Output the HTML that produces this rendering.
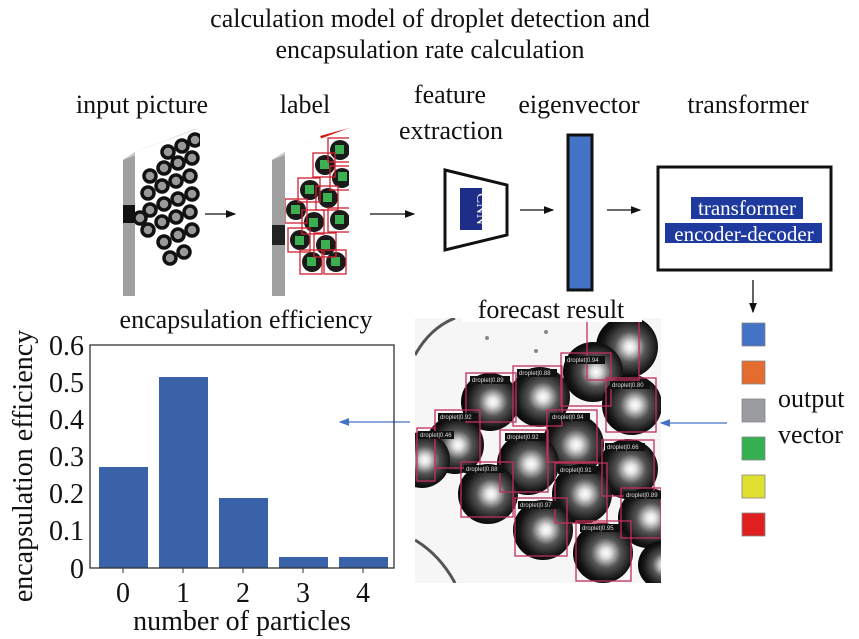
<!DOCTYPE html>
<html><head><meta charset="utf-8"><style>
body{margin:0;background:#fff;}
svg{display:block;font-family:"Liberation Serif","DejaVu Serif Condensed","DejaVu Serif",serif;}
</style></head><body>
<svg width="859" height="639" viewBox="0 0 859 639" xmlns="http://www.w3.org/2000/svg" fill="#111">
<defs>
<radialGradient id="dg" cx="0.55" cy="0.5" r="0.55">
<stop offset="0" stop-color="#fff"/><stop offset="0.15" stop-color="#e0e0e0"/><stop offset="0.45" stop-color="#555"/><stop offset="0.8" stop-color="#151515"/><stop offset="1" stop-color="#050505"/>
</radialGradient>
<clipPath id="fc"><rect x="415" y="318" width="246" height="265"/></clipPath>
<clipPath id="ip"><polygon points="135,152 200,128 200,262 135,296"/></clipPath>
<clipPath id="lp"><polygon points="285,152 349,128 349,280 285,296"/></clipPath>
<marker id="ah" markerWidth="8" markerHeight="8" refX="7" refY="4" orient="auto"><path d="M0,1 L8,4 L0,7z" fill="#111"/></marker>
<marker id="bh" markerWidth="8" markerHeight="8" refX="7" refY="4" orient="auto"><path d="M0,1 L8,4 L0,7z" fill="#4472c4"/></marker>
</defs>

<g font-size="26">
<text x="430" y="27" text-anchor="middle">calculation model of droplet detection and</text>
<text x="430" y="58" text-anchor="middle">encapsulation rate calculation</text>
<text x="142" y="113" text-anchor="middle">input picture</text>
<text x="305" y="113" text-anchor="middle">label</text>
<text x="450" y="103" text-anchor="middle">feature</text>
<text x="451" y="139" text-anchor="middle">extraction</text>
<text x="579" y="113" text-anchor="middle">eigenvector</text>
<text x="748" y="113" text-anchor="middle">transformer</text>
</g>

<polygon points="123,160 135,152 135,296 123,296" fill="#a0a0a0"/>
<polygon points="123,160 135,152 198,128 186,136" fill="#c8c8c8"/>
<rect x="123" y="205" width="12" height="18" fill="#111"/>
<polygon points="135,152 200,128 200,262 135,296" fill="#fff"/>
<g clip-path="url(#ip)" fill="#999" stroke="#111" stroke-width="3.5">
<circle cx="195" cy="140" r="6"/><circle cx="182" cy="146" r="6"/><circle cx="168" cy="152" r="6"/><circle cx="192" cy="158" r="6"/>
<circle cx="178" cy="163" r="6"/><circle cx="164" cy="168" r="6"/><circle cx="150" cy="176" r="6"/><circle cx="190" cy="176" r="6"/>
<circle cx="176" cy="181" r="6"/><circle cx="162" cy="186" r="6"/><circle cx="148" cy="193" r="6"/><circle cx="192" cy="194" r="6"/>
<circle cx="178" cy="199" r="6"/><circle cx="164" cy="204" r="6"/><circle cx="150" cy="210" r="6"/><circle cx="140" cy="218" r="6"/>
<circle cx="190" cy="212" r="6"/><circle cx="176" cy="217" r="6"/><circle cx="162" cy="222" r="6"/><circle cx="148" cy="230" r="6"/>
<circle cx="192" cy="230" r="6"/><circle cx="178" cy="235" r="6"/><circle cx="164" cy="242" r="6"/><circle cx="184" cy="252" r="6"/><circle cx="170" cy="258" r="6"/>
</g>
<line x1="205" y1="214" x2="235" y2="214" stroke="#111" stroke-width="1.3" marker-end="url(#ah)"/>

<polygon points="272,160 285,152 285,296 272,296" fill="#a0a0a0"/>
<polygon points="272,160 285,152 349,128 336,136" fill="#c8c8c8"/>
<polygon points="320,136 349,128 349,140 325,146" fill="#d01818"/>
<rect x="272" y="225" width="18" height="20" fill="#222"/>
<polygon points="285,152 349,128 349,280 285,296" fill="#fff"/>
<g clip-path="url(#lp)">
<g fill="#1a1a1a"><circle cx="340" cy="150" r="10"/><circle cx="325" cy="165" r="10"/><circle cx="342" cy="178" r="10"/><circle cx="310" cy="190" r="10"/><circle cx="328" cy="198" r="10"/><circle cx="296" cy="210" r="10"/><circle cx="314" cy="222" r="10"/><circle cx="340" cy="220" r="10"/><circle cx="300" cy="240" r="10"/><circle cx="326" cy="245" r="10"/><circle cx="312" cy="262" r="10"/><circle cx="336" cy="262" r="10"/></g>
<g fill="#3cb050"><rect x="335" y="145" width="9" height="9"/><rect x="320" y="160" width="9" height="9"/><rect x="338" y="172" width="9" height="9"/><rect x="305" y="185" width="9" height="9"/><rect x="323" y="193" width="9" height="9"/><rect x="291" y="205" width="9" height="9"/><rect x="309" y="218" width="9" height="9"/><rect x="335" y="215" width="9" height="9"/><rect x="295" y="236" width="9" height="9"/><rect x="321" y="240" width="9" height="9"/><rect x="307" y="257" width="9" height="9"/><rect x="331" y="257" width="9" height="9"/></g>
<g fill="none" stroke="#d02030" stroke-width="1.3"><rect x="328" y="138" width="22" height="24"/><rect x="313" y="153" width="22" height="24"/><rect x="330" y="166" width="22" height="24"/><rect x="298" y="178" width="22" height="24"/><rect x="316" y="186" width="22" height="24"/><rect x="285" y="199" width="22" height="24"/><rect x="302" y="210" width="22" height="24"/><rect x="328" y="208" width="22" height="24"/><rect x="288" y="228" width="22" height="24"/><rect x="314" y="233" width="22" height="24"/><rect x="300" y="250" width="22" height="24"/><rect x="324" y="250" width="22" height="24"/></g>
</g>
<line x1="370" y1="214" x2="414" y2="214" stroke="#111" stroke-width="1.3" marker-end="url(#ah)"/>

<polygon points="445,170 507,185 507,235 445,250" fill="#fff" stroke="#111" stroke-width="3"/>
<rect x="460" y="188" width="22" height="42" fill="#1e2e88"/>
<text transform="translate(477,209) rotate(90)" font-size="15" text-anchor="middle" fill="#fff">CNN</text>
<line x1="520" y1="210" x2="553" y2="210" stroke="#111" stroke-width="1.3" marker-end="url(#ah)"/>
<rect x="568" y="135" width="24" height="155" fill="#4472c4" stroke="#111" stroke-width="3"/>
<line x1="607" y1="210" x2="640" y2="210" stroke="#111" stroke-width="1.3" marker-end="url(#ah)"/>

<rect x="658" y="167" width="173" height="103" fill="#fff" stroke="#111" stroke-width="3"/>
<rect x="691" y="197" width="112" height="22" fill="#1e3a9e"/>
<rect x="665" y="223" width="157" height="20" fill="#1e3a9e"/>
<text x="747" y="215" font-size="21" text-anchor="middle" fill="#fff">transformer</text>
<text x="744" y="241" font-size="21" text-anchor="middle" fill="#fff">encoder-decoder</text>
<line x1="753" y1="280" x2="753" y2="312" stroke="#111" stroke-width="1.3" marker-end="url(#ah)"/>

<g stroke="#888" stroke-width="0.8">
<rect x="742" y="323" width="23" height="23" fill="#4472c4"/>
<rect x="742" y="361" width="23" height="23" fill="#e46c2e"/>
<rect x="742" y="399" width="23" height="23" fill="#9a9ca0"/>
<rect x="742" y="437" width="23" height="23" fill="#34b050"/>
<rect x="742" y="475" width="23" height="23" fill="#e0e030"/>
<rect x="742" y="513" width="23" height="23" fill="#e02020"/>
</g>
<text x="778" y="407" font-size="26">output</text>
<text x="778" y="443" font-size="26">vector</text>

<g clip-path="url(#fc)">
<rect x="415" y="318" width="246" height="265" fill="#f6f6f6"/>
<path d="M415,355 Q430,328 455,318" fill="none" stroke="#555" stroke-width="3"/>
<path d="M415,540 Q440,555 455,583" fill="none" stroke="#555" stroke-width="3"/>
<circle cx="487" cy="338" r="2" fill="#888"/><circle cx="536" cy="351" r="2" fill="#888"/><circle cx="546" cy="332" r="2" fill="#888"/>
<g fill="url(#dg)">
<circle cx="627" cy="347" r="31"/><circle cx="593" cy="372" r="30"/><circle cx="540" cy="397" r="30"/><circle cx="490" cy="402" r="29"/><circle cx="632" cy="405" r="30"/><circle cx="573" cy="445" r="31"/><circle cx="455" cy="445" r="29"/><circle cx="528" cy="464" r="31"/><circle cx="628" cy="469" r="30"/><circle cx="422" cy="460" r="28"/><circle cx="488" cy="494" r="30"/><circle cx="582" cy="494" r="30"/><circle cx="648" cy="518" r="30"/><circle cx="543" cy="530" r="30"/><circle cx="603" cy="553" r="30"/><circle cx="662" cy="565" r="24"/>
</g>
<g fill="none" stroke="#c0305a" stroke-width="1.3">
<rect x="587" y="318" width="52" height="62"/><rect x="561" y="353" width="50" height="53"/><rect x="513" y="366" width="49" height="60"/><rect x="466" y="373" width="50" height="49"/><rect x="606" y="378" width="50" height="54"/><rect x="547" y="410" width="50" height="52"/><rect x="435" y="410" width="45" height="58"/><rect x="500" y="430" width="48" height="62"/><rect x="602" y="440" width="52" height="56"/><rect x="417" y="428" width="18" height="53"/><rect x="461" y="462" width="52" height="55"/><rect x="555" y="463" width="52" height="60"/><rect x="621" y="488" width="40" height="50"/><rect x="515" y="498" width="52" height="58"/><rect x="576" y="521" width="55" height="60"/>
</g>
<g fill="#111"><rect x="565" y="356" width="40" height="8"/><rect x="517" y="369" width="40" height="8"/><rect x="470" y="376" width="40" height="8"/><rect x="610" y="381" width="40" height="8"/><rect x="550" y="413" width="40" height="8"/><rect x="438" y="413" width="40" height="8"/><rect x="418" y="431" width="36" height="8"/><rect x="505" y="433" width="40" height="8"/><rect x="605" y="443" width="40" height="8"/><rect x="464" y="465" width="40" height="8"/><rect x="558" y="466" width="40" height="8"/><rect x="624" y="491" width="37" height="8"/><rect x="518" y="501" width="40" height="8"/><rect x="580" y="524" width="40" height="8"/></g>
<g font-family="Liberation Sans, sans-serif" font-size="6" fill="#ddd"><text x="567" y="362">droplet|0.94</text><text x="519" y="375">droplet|0.88</text><text x="472" y="382">droplet|0.89</text><text x="612" y="387">droplet|0.80</text><text x="552" y="419">droplet|0.94</text><text x="440" y="419">droplet|0.92</text><text x="420" y="437">droplet|0.46</text><text x="507" y="439">droplet|0.92</text><text x="607" y="449">droplet|0.66</text><text x="466" y="471">droplet|0.88</text><text x="560" y="472">droplet|0.91</text><text x="626" y="497">droplet|0.89</text><text x="520" y="507">droplet|0.97</text><text x="582" y="530">droplet|0.95</text></g>
</g>
<rect x="462" y="296" width="180" height="26" fill="#fff"/>
<text x="551" y="318" font-size="26" text-anchor="middle">forecast result</text>
<line x1="727" y1="423" x2="661" y2="423" stroke="#4472c4" stroke-width="1.3" marker-end="url(#bh)"/>
<line x1="410" y1="422" x2="340" y2="422" stroke="#4472c4" stroke-width="1.3" marker-end="url(#bh)"/>

<text x="246" y="328" font-size="26" text-anchor="middle">encapsulation efficiency</text>
<g fill="#3a62a8">
<rect x="99" y="467" width="49" height="101"/><rect x="159" y="377" width="49" height="191"/><rect x="219" y="498" width="49" height="70"/><rect x="279" y="557" width="49" height="11"/><rect x="339" y="557" width="49" height="11"/>
</g>
<rect x="90" y="345" width="304" height="223" fill="none" stroke="#333" stroke-width="1.3"/>
<g stroke="#333" stroke-width="1"><line x1="123" y1="568" x2="123" y2="573"/><line x1="183" y1="568" x2="183" y2="573"/><line x1="243" y1="568" x2="243" y2="573"/><line x1="303" y1="568" x2="303" y2="573"/><line x1="363" y1="568" x2="363" y2="573"/></g>
<g font-size="28" text-anchor="end">
<text x="84" y="355">0.6</text><text x="84" y="392">0.5</text><text x="84" y="429">0.4</text><text x="84" y="466">0.3</text><text x="84" y="503">0.2</text><text x="84" y="540">0.1</text><text x="84" y="578">0</text>
</g>
<g font-size="28" text-anchor="middle">
<text x="123" y="602">0</text><text x="183" y="602">1</text><text x="243" y="602">2</text><text x="303" y="602">3</text><text x="363" y="602">4</text>
</g>
<text x="242" y="630" font-size="28" text-anchor="middle">number of particles</text>
<text transform="translate(32,466) rotate(-90)" font-size="28" text-anchor="middle">encapsulation efficiency</text>
</svg>
</body></html>
